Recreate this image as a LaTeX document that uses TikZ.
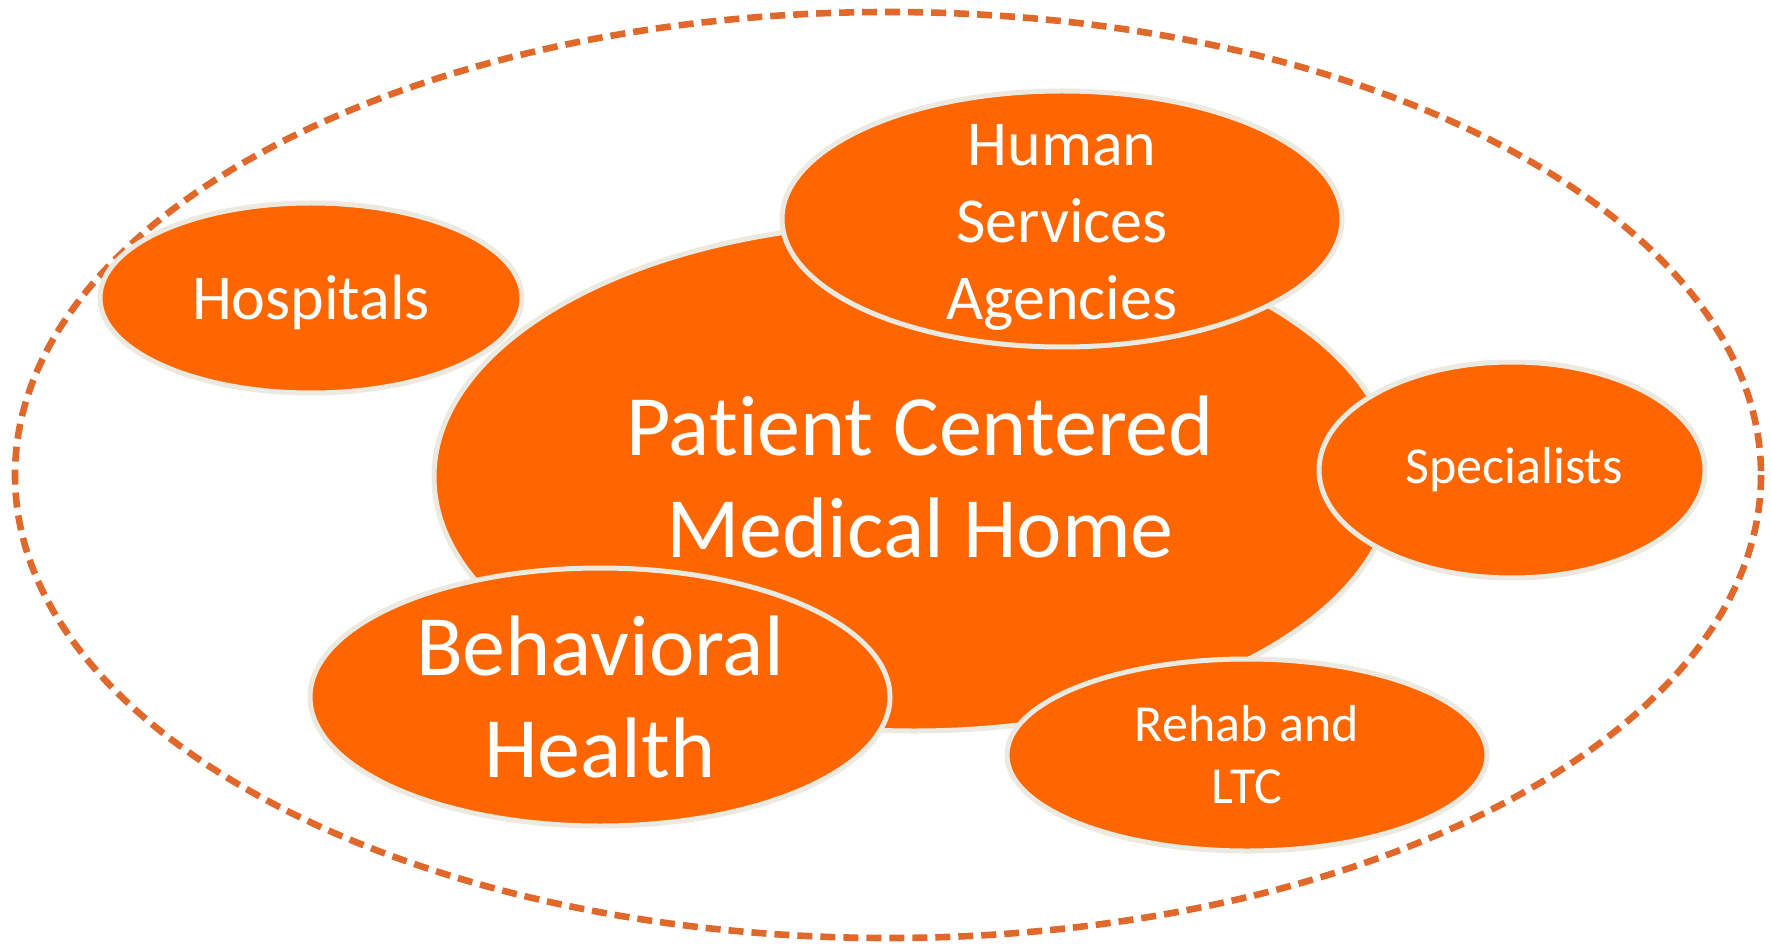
\documentclass[tikz,border=0pt]{standalone}
\usepackage{fontspec}
\setmainfont{Carlito}[Ligatures=NoCommon]
\usetikzlibrary{shapes.geometric}
\definecolor{pcorange}{HTML}{FF6600}
\definecolor{pcrim}{HTML}{ECEAE0}
\definecolor{pcdash}{HTML}{E0682A}
\tikzset{main node/.style={ellipse,draw=pcrim,line width=2.5pt,fill=pcorange,inner sep=0pt},
  text node/.style={text=white,align=center,inner sep=0pt},
  outer line/.style={draw=pcdash,line width=3.3pt,dash pattern=on 7.5pt off 4pt},}

\begin{document}
\begin{tikzpicture}[x=0.5pt,y=-0.5pt]
      \useasboundingbox (0,0) rectangle (1771,946);
      \draw[outer line] (888,475) ellipse [x radius=873, y radius=463];

      \node[main node,minimum width=480pt,minimum height=254pt] (1) at (914,477) {};
      \node[main node,minimum width=211pt,minimum height=95pt] (2) at (311,298) {};
      \node[main node,minimum width=280pt,minimum height=128pt] (3) at (1062,219) {};
      \node[main node,minimum width=193pt,minimum height=108pt] (4) at (1512,470) {};
      \node[main node,minimum width=290pt,minimum height=129pt] (5) at (600,697) {};
      \node[main node,minimum width=240pt,minimum height=96pt] (6) at (1247,755) {};

      \node[text node,font=\fontsize{43}{51}\selectfont] (1t) at ([xshift=3pt]1) {Patient Centered\\Medical Home};
      \node[text node,font=\fontsize{32}{38}\selectfont] (2t) at ([yshift=-2pt]2) {Hospitals};
      \node[text node,font=\fontsize{32}{38.5}\selectfont] (3t) at ([yshift=-4pt]3) {Human\\Services\\Agencies};
      \node[text node,font=\fontsize{26}{31}\selectfont] (4t) at ([xshift=1pt]4) {Specialists};
      \node[text node,font=\fontsize{43}{51}\selectfont] (5t) at (5) {Behavioral\\Health};
      \node[text node,font=\fontsize{26}{31}\selectfont] (6t) at (6) {Rehab and\\LTC};
    \end{tikzpicture}
\end{document}
